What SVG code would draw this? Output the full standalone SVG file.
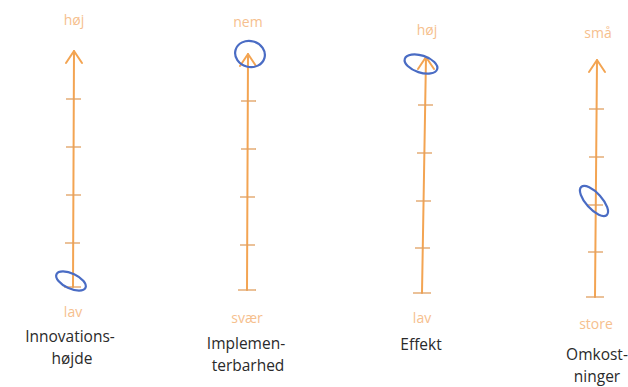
<svg xmlns="http://www.w3.org/2000/svg" width="628" height="387" viewBox="0 0 628 387">
<style>
.ax{stroke:#F3A452;stroke-width:2;fill:none;stroke-linecap:round}
.tk{stroke:#E0A060;stroke-width:1.3;fill:none}
.hd{stroke:#F3A452;stroke-width:2;fill:none;stroke-linecap:round;stroke-linejoin:round}
.el{stroke:#4A6CC4;stroke-width:2.2;fill:none}
.sc{font-family:"Open Sans",Lato,sans-serif;font-size:14px;fill:#F6C08E;text-anchor:middle}
.nm{font-family:"Open Sans",Lato,sans-serif;font-size:15.5px;fill:#2a2a2a;text-anchor:middle}
</style>
<rect width="628" height="387" fill="#fff"/>
<g id="axis-innovation">
<line class="ax" x1="74" y1="51" x2="73" y2="287"/>
<polyline class="hd" points="66,63 74,51 82,63"/>
<line class="tk" x1="66" y1="99" x2="81" y2="99"/>
<line class="tk" x1="66" y1="147" x2="81" y2="147"/>
<line class="tk" x1="66" y1="195" x2="81" y2="195"/>
<line class="tk" x1="65" y1="243" x2="80" y2="243"/>
<line class="tk" x1="64" y1="287" x2="81" y2="287"/>
<ellipse class="el" cx="71" cy="281" rx="16" ry="7.5" transform="rotate(25 71 281)"/>
<text class="sc" x="74" y="25">høj</text>
<text class="sc" x="73" y="317">lav</text>
<text class="nm" x="70" y="342">Innovations-</text>
<text class="nm" x="72" y="364">højde</text>
</g>
<g id="axis-implementation">
<line class="ax" x1="248" y1="54" x2="247" y2="290"/>
<polyline class="hd" points="240,66 248,54 256,66"/>
<line class="tk" x1="241" y1="101" x2="256" y2="101"/>
<line class="tk" x1="241" y1="149" x2="256" y2="149"/>
<line class="tk" x1="240" y1="197" x2="255" y2="197"/>
<line class="tk" x1="240" y1="245" x2="255" y2="245"/>
<line class="tk" x1="238" y1="290" x2="256" y2="290"/>
<ellipse class="el" cx="250" cy="54" rx="15" ry="13" transform="rotate(15 250 54)"/>
<text class="sc" x="248" y="27">nem</text>
<text class="sc" x="247" y="323">svær</text>
<text class="nm" x="246" y="349">Implemen-</text>
<text class="nm" x="248" y="371">terbarhed</text>
</g>
<g id="axis-effect">
<line class="ax" x1="426" y1="57" x2="422" y2="293"/>
<polyline class="hd" points="418,69 426,57 434,69"/>
<line class="tk" x1="418" y1="105" x2="433" y2="105"/>
<line class="tk" x1="417" y1="153" x2="432" y2="153"/>
<line class="tk" x1="416" y1="201" x2="431" y2="201"/>
<line class="tk" x1="415" y1="248" x2="430" y2="248"/>
<line class="tk" x1="413" y1="293" x2="431" y2="293"/>
<ellipse class="el" cx="421" cy="64" rx="17" ry="8.5" transform="rotate(18 421 64)"/>
<text class="sc" x="427" y="35">høj</text>
<text class="sc" x="422" y="323">lav</text>
<text class="nm" x="421" y="350">Effekt</text>
</g>
<g id="axis-costs">
<line class="ax" x1="597" y1="60" x2="595" y2="297"/>
<polyline class="hd" points="589,72 597,60 605,72"/>
<line class="tk" x1="589" y1="109" x2="604" y2="109"/>
<line class="tk" x1="589" y1="157" x2="604" y2="157"/>
<line class="tk" x1="588" y1="205" x2="603" y2="205"/>
<line class="tk" x1="588" y1="252" x2="603" y2="252"/>
<line class="tk" x1="586" y1="297" x2="604" y2="297"/>
<ellipse class="el" cx="594" cy="201" rx="19" ry="8" transform="rotate(48 594 201)"/>
<text class="sc" x="598" y="38">små</text>
<text class="sc" x="596" y="329">store</text>
<text class="nm" x="597" y="360">Omkost-</text>
<text class="nm" x="597" y="382">ninger</text>
</g>
<g id="connectors"></g>
</svg>
